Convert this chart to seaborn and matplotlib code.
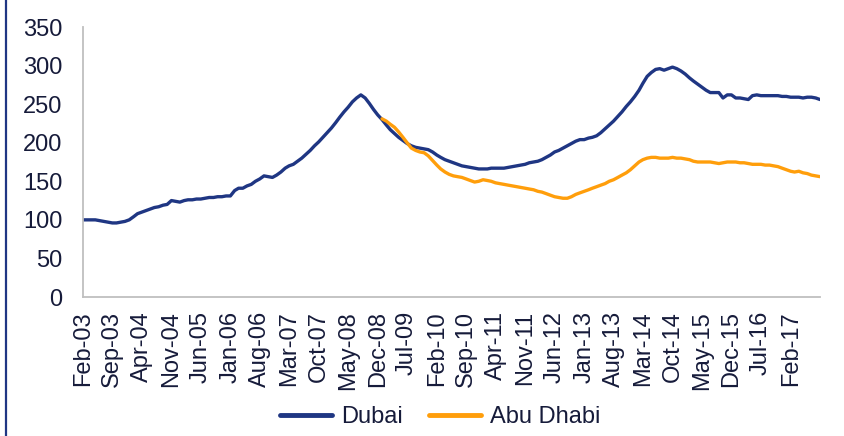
import pandas as pd
import seaborn as sns
import matplotlib
matplotlib.use('Agg')
import matplotlib.pyplot as plt
from matplotlib.lines import Line2D


months = pd.date_range('2003-02-01', '2017-09-01', freq='MS')
abu_dhabi_months = pd.date_range('2009-01-01', '2017-09-01', freq='MS')

dubai = [
    100, 100, 100, 100, 99, 98, 97, 96, 96, 97, 98,            # 2003
    100, 104, 108, 110, 112, 114, 116, 117, 119, 120, 125, 124,  # 2004
    123, 125, 126, 126, 127, 127, 128, 129, 129, 130, 130, 131,  # 2005
    131, 138, 141, 141, 144, 146, 150, 153, 157, 156, 155, 158,  # 2006
    162, 167, 170, 172, 176, 180, 185, 190, 196, 201, 207, 213,  # 2007
    219, 226, 233, 240, 246, 253, 258, 262, 258, 251, 243, 236,  # 2008
    230, 223, 217, 212, 207, 203, 199, 196, 194, 193, 192, 191,  # 2009
    188, 184, 181, 178, 176, 174, 172, 170, 169, 168, 167, 166,  # 2010
    166, 166, 167, 167, 167, 167, 168, 169, 170, 171, 172, 174,  # 2011
    175, 176, 178, 181, 184, 188, 190, 193, 196, 199, 202, 204,  # 2012
    204, 206, 207, 209, 213, 218, 223, 228, 234, 240, 247, 253,  # 2013
    260, 268, 277, 286, 291, 295, 296, 294, 296, 298, 296, 293,  # 2014
    289, 284, 280, 276, 272, 268, 265, 265, 265, 258, 262, 262,  # 2015
    258, 258, 257, 256, 261, 262, 261, 261, 261, 261, 261, 260,  # 2016
    260, 259, 259, 259, 258, 259, 259, 258, 256,                 # 2017
]

abu_dhabi = [
    231, 228, 224, 220, 214, 207, 200, 193, 190, 188, 187, 183,  # 2009
    177, 171, 166, 162, 159, 157, 156, 155, 153, 151, 149, 150,  # 2010
    152, 151, 150, 148, 147, 146, 145, 144, 143, 142, 141, 140,  # 2011
    139, 137, 136, 134, 132, 130, 129, 128, 128, 130, 133, 135,  # 2012
    137, 139, 141, 143, 145, 147, 150, 152, 155, 158, 161, 165,  # 2013
    170, 175, 178, 180, 181, 181, 180, 180, 180, 181, 180, 180,  # 2014
    179, 178, 176, 175, 175, 175, 175, 174, 173, 174, 175, 175,  # 2015
    175, 174, 174, 173, 172, 172, 172, 171, 171, 170, 169, 167,  # 2016
    165, 163, 162, 163, 161, 160, 158, 157, 156,                 # 2017
]

navy = '#1F3683'
orange = '#FF9E0B'
text_color = '#161B3A'

sns.set_style('white')
plt.rcParams['font.family'] = ['Liberation Sans', 'DejaVu Sans']

fig = plt.figure(figsize=(8.45, 4.36), dpi=100)
ax = fig.add_axes([83 / 845, 1 - 297 / 436, 737 / 845, 270 / 436])

sns.lineplot(x=months, y=dubai, color=navy, linewidth=2.4, label='Dubai', ax=ax)
sns.lineplot(x=abu_dhabi_months, y=abu_dhabi, color=orange, linewidth=2.4, label='Abu Dhabi', ax=ax)

ax.set_xlim(months[0], months[-1])
ax.set_ylim(0, 350)
ax.set_yticks(range(0, 351, 50))

tick_dates = months[::7]
tick_labels = [d.strftime('%b-%y') for d in tick_dates]
tick_labels[-1] = ''
ax.set_xticks(tick_dates)
ax.set_xticklabels(tick_labels, rotation=90)

ax.set(xlabel='', ylabel='')
for side in ['top', 'right']:
    ax.spines[side].set_visible(False)
for side in ['left', 'bottom']:
    ax.spines[side].set_color('#BFBFBF')
    ax.spines[side].set_linewidth(1.3)

ax.tick_params(axis='both', which='major', direction='out', length=5, width=1.3,
               color='#BFBFBF', labelcolor=text_color, labelsize=17)
ax.tick_params(axis='y', pad=10)
ax.tick_params(axis='x', pad=5)
ax.grid(False)

ax.legend_.remove()
handles = [Line2D([], [], color=navy, linewidth=3.5), Line2D([], [], color=orange, linewidth=3.5)]
fig.legend(handles, ['Dubai', 'Abu Dhabi'], loc='center', bbox_to_anchor=(440 / 845, 1 - 417 / 436),
           ncol=2, frameon=False, fontsize=17, handlelength=2.2, handletextpad=0.4,
           columnspacing=1.1, labelcolor=text_color)

# border on the left edge of the picture
fig.add_artist(Line2D([6.5 / 845, 6.5 / 845], [0, 1], color=navy, linewidth=1.6))

fig.savefig('out.png', dpi=100)
